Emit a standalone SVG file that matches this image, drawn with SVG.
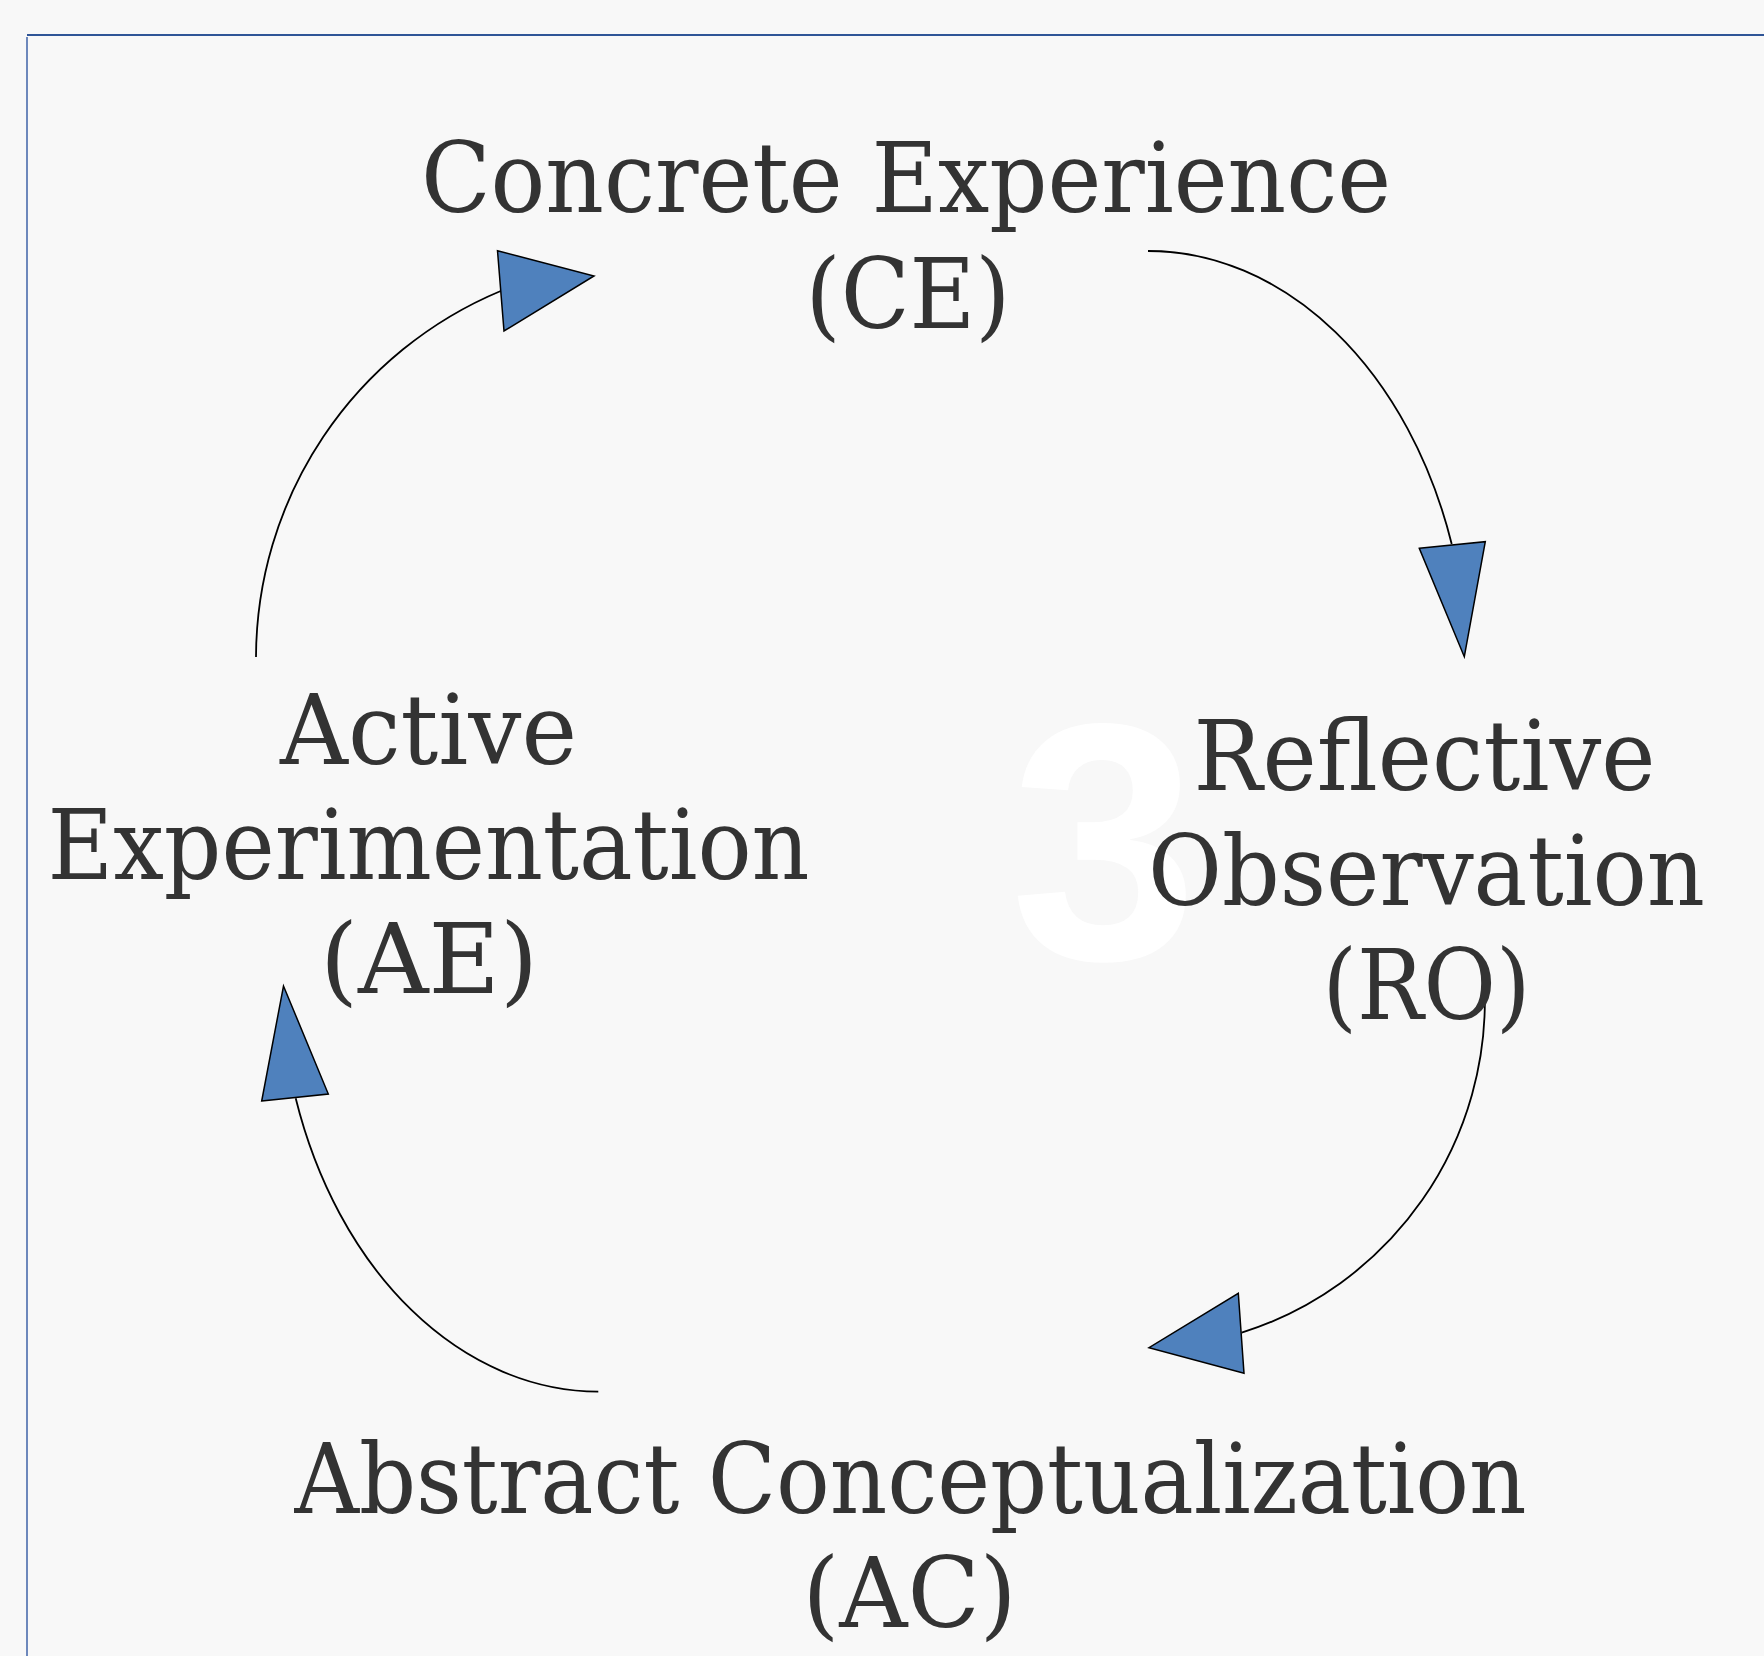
<svg xmlns="http://www.w3.org/2000/svg" width="1764" height="1656" viewBox="0 0 1764 1656">
<style>
.lbl{font-family:"DejaVu Serif Condensed","DejaVu Serif",serif;font-stretch:condensed;font-size:98px;fill:#333333;text-anchor:middle}
.arc{fill:none;stroke:#000000;stroke-width:1.8}
.head{fill:#4f81bd;stroke:#000000;stroke-width:1.5;stroke-linejoin:miter}
</style>
<rect x="0" y="0" width="1764" height="1656" fill="#f8f8f8"/>
<g id="frame">
<line x1="27" y1="35" x2="1764" y2="35" stroke="#2f5597" stroke-width="2"/>
<line x1="27" y1="37" x2="27" y2="1656" stroke="#3f63a8" stroke-width="1.5"/>
</g>
<text x="1104" y="959" font-family="'Liberation Sans',Arial,sans-serif" font-weight="bold" font-size="338" fill="#ffffff" text-anchor="middle">3</text>
<g id="connectors">
<path class="arc" d="M1148,251 A320,428 0 0 1 1451.7,544"/>
<polygon class="head" points="1419.3,548.3 1485.3,541.7 1464.3,656.7"/>
<path class="arc" d="M1484.5,985 A348,348 0 0 1 1241.7,1332.7"/>
<polygon class="head" points="1238.3,1293.3 1244,1373.3 1149,1347.7"/>
<path class="arc" d="M598.3,1391.7 A320,428 0 0 1 295.7,1098.3"/>
<polygon class="head" points="261.7,1101 328.3,1094 283.5,986"/>
<path class="arc" d="M256,657 A398,398 0 0 1 500.7,291"/>
<polygon class="head" points="497.5,250.7 594,276 504,331"/>
</g>
<g id="node-ce">
<text class="lbl" x="906" y="211.7" textLength="970" lengthAdjust="spacingAndGlyphs">Concrete Experience</text>
<text class="lbl" x="908" y="327.7" textLength="205" lengthAdjust="spacingAndGlyphs">(CE)</text>
</g>
<g id="node-ro">
<text class="lbl" x="1424.5" y="790" textLength="462" lengthAdjust="spacingAndGlyphs">Reflective</text>
<text class="lbl" x="1426.5" y="905" textLength="557" lengthAdjust="spacingAndGlyphs">Observation</text>
<text class="lbl" x="1426.5" y="1019" textLength="208" lengthAdjust="spacingAndGlyphs">(RO)</text>
</g>
<g id="node-ac">
<text class="lbl" x="910.5" y="1512.7" textLength="1232" lengthAdjust="spacingAndGlyphs">Abstract Conceptualization</text>
<text class="lbl" x="909.5" y="1627" textLength="214" lengthAdjust="spacingAndGlyphs">(AC)</text>
</g>
<g id="node-ae">
<text class="lbl" x="428.5" y="764.3" textLength="297" lengthAdjust="spacingAndGlyphs">Active</text>
<text class="lbl" x="428.5" y="879.3" textLength="762" lengthAdjust="spacingAndGlyphs">Experimentation</text>
<text class="lbl" x="429" y="993.3" textLength="218" lengthAdjust="spacingAndGlyphs">(AE)</text>
</g>
</svg>
